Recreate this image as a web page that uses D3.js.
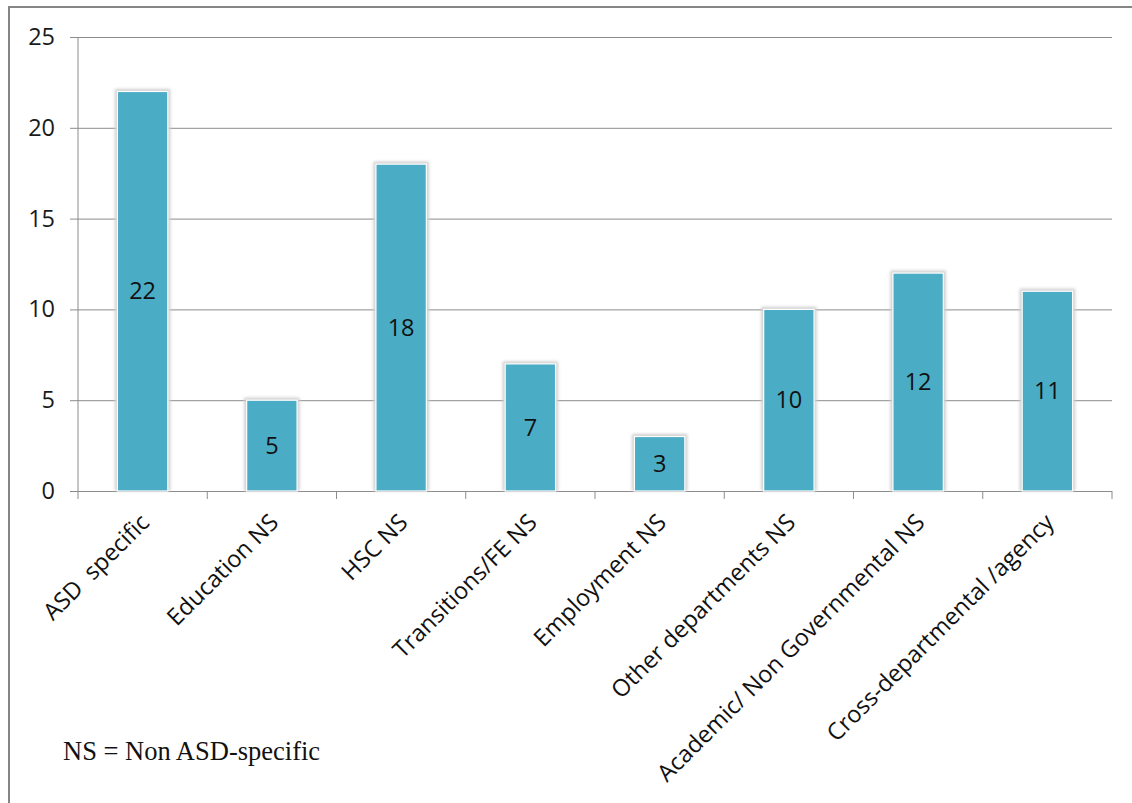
<!DOCTYPE html>
<html>
<head>
<meta charset="utf-8">
<script src="https://cdn.jsdelivr.net/npm/d3@7"></script>
<style>
  html, body { margin: 0; padding: 0; background: #fff; }
  svg { display: block; }
</style>
</head>
<body>
<svg id="chart" width="1132" height="803"></svg>
<script>
// Bodies by remit
const categories = [
  "ASD  specific",
  "Education NS",
  "HSC NS",
  "Transitions/FE NS",
  "Employment NS",
  "Other departments NS",
  "Academic/ Non Governmental NS",
  "Cross-departmental /agency"
];
const counts = [22, 5, 18, 7, 3, 10, 12, 11];
const yTicks = [0, 5, 10, 15, 20, 25];
const footnote = "NS = Non ASD-specific";

const W = 1132, H = 803;
const plot = { left: 78, right: 1112, top: 37, bottom: 491 };
const barColor = "#4BACC6";
const gridColor = "#8c8c8c";
const sansFont = "'Open Sans', 'DejaVu Sans', sans-serif";
const labelSize = "23.5px";

const svg = d3.select("#chart");

// soft shadow round each bar
const defs = svg.append("defs");
defs.append("filter")
  .attr("id", "barShadow")
  .attr("x", "-20%").attr("y", "-20%").attr("width", "140%").attr("height", "140%")
  .append("feGaussianBlur").attr("stdDeviation", 1.4);

// frame: top and left edges
svg.append("path")
  .attr("d", `M9,${H} L9,7 L${W},7`)
  .attr("fill", "none")
  .attr("stroke", "#858585")
  .attr("stroke-width", 2);

const x = d3.scaleBand()
  .domain(categories)
  .range([plot.left, plot.right])
  .paddingInner(0).paddingOuter(0);

const y = d3.scaleLinear()
  .domain([0, 25])
  .range([plot.bottom, plot.top]);

// horizontal gridlines + left ticks
svg.append("g")
  .attr("transform", `translate(${plot.left},0)`)
  .call(d3.axisLeft(y).tickValues(yTicks).tickSize(-(plot.right - plot.left)).tickSizeOuter(0).tickPadding(23))
  .call(g => g.select(".domain").remove())
  .call(g => g.selectAll(".tick line")
    .attr("stroke", gridColor).attr("stroke-width", 1)
    .attr("x1", -8))
  .call(g => g.selectAll(".tick text")
    .attr("fill", "#1a1a1a")
    .style("font-family", sansFont)
    .style("font-size", labelSize));

// vertical axis line
svg.append("line")
  .attr("x1", plot.left).attr("x2", plot.left)
  .attr("y1", plot.top).attr("y2", plot.bottom)
  .attr("stroke", gridColor).attr("stroke-width", 1);

// category boundary ticks below the baseline
const bounds = categories.map(c => x(c) + x.bandwidth()).concat([plot.left]);
svg.append("g").selectAll("line")
  .data(bounds)
  .join("line")
  .attr("x1", d => d).attr("x2", d => d)
  .attr("y1", plot.bottom).attr("y2", plot.bottom + 8)
  .attr("stroke", gridColor).attr("stroke-width", 1);

// bars
const barW = x.bandwidth() * 0.39;
const data = categories.map((c, i) => ({ c, v: counts[i] }));
const bars = svg.append("g");

bars.selectAll("rect.shadow")
  .data(data)
  .join("rect")
  .attr("class", "shadow")
  .attr("x", d => x(d.c) + (x.bandwidth() - barW) / 2 - 2.5)
  .attr("y", d => y(d.v) - 2.5)
  .attr("width", barW + 5)
  .attr("height", d => y(0) - y(d.v) + 2.5)
  .attr("fill", "#cfcfcf")
  .attr("filter", "url(#barShadow)");

bars.selectAll("rect.bar")
  .data(data)
  .join("rect")
  .attr("class", "bar")
  .attr("x", d => x(d.c) + (x.bandwidth() - barW) / 2)
  .attr("y", d => y(d.v))
  .attr("width", barW)
  .attr("height", d => y(0) - y(d.v))
  .attr("fill", barColor)
  .attr("stroke", "#ffffff")
  .attr("stroke-width", 1.2);

// value labels at the middle of each bar
svg.append("g").selectAll("text")
  .data(data)
  .join("text")
  .attr("x", d => x(d.c) + x.bandwidth() / 2)
  .attr("y", d => (y(d.v) + y(0)) / 2)
  .attr("text-anchor", "middle")
  .attr("dy", "0.35em")
  .attr("fill", "#111")
  .style("font-family", sansFont)
  .style("font-size", labelSize)
  .text(d => d.v);

// rotated category labels
svg.append("g").selectAll("text")
  .data(categories)
  .join("text")
  .attr("transform", d => `translate(${x(d) + x.bandwidth() / 2 + 8},${plot.bottom + 33}) rotate(-45)`)
  .attr("text-anchor", "end")
  .attr("fill", "#111")
  .style("font-family", sansFont)
  .style("font-size", labelSize)
  .style("white-space", "pre")
  .text(d => d);

// footnote
svg.append("text")
  .attr("x", 63)
  .attr("y", 760)
  .attr("fill", "#111")
  .style("font-family", "'Liberation Serif', 'Times New Roman', serif")
  .style("font-size", "26.5px")
  .text(footnote);
</script>
</body>
</html>
